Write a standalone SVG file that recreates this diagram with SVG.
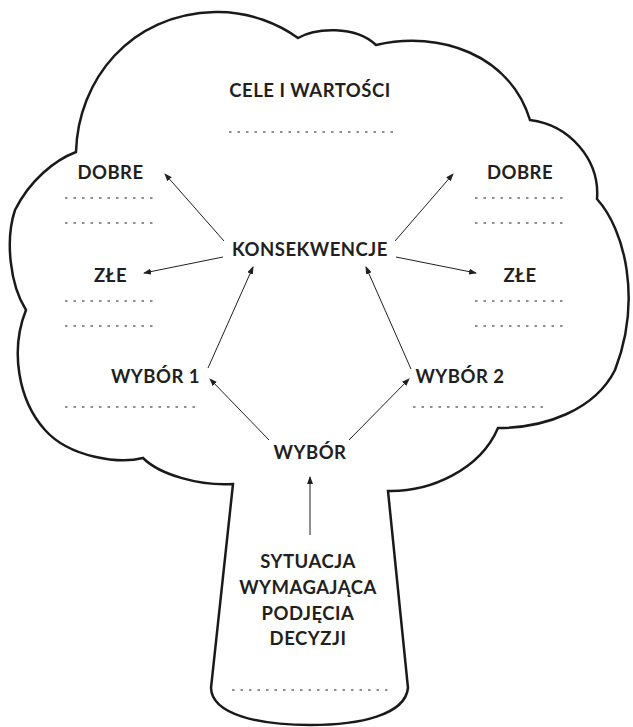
<svg xmlns="http://www.w3.org/2000/svg" width="633" height="727" viewBox="0 0 633 727">
<style>
.t{font-family:Lato,"Open Sans","Liberation Sans",sans-serif;font-weight:700;font-size:18.5px;letter-spacing:0.5px;fill:#231f20;text-anchor:middle}
.d{stroke:#231f20;stroke-width:1.2;stroke-dasharray:2.5 6;fill:none}
.c{stroke:#231f20;stroke-width:1;fill:none;marker-end:url(#ah)}
.o{stroke:#1a1a1a;stroke-width:2.5;fill:#fff;stroke-linejoin:miter}
</style>
<defs>
<marker id="ah" markerWidth="8" markerHeight="6" refX="7" refY="3" orient="auto" markerUnits="userSpaceOnUse">
<path d="M0,0 L8,3 L0,6 Z" fill="#231f20"/>
</marker>
</defs>
<g id="tree">
<path class="o" d="M233,484 C200,486 160,475 143,458 C120,464 70,458 45,430 C18,400 10,350 26,310 C10,285 5,240 15,210 C30,180 55,160 76,152 C78,80 130,14 215,12 C250,11 280,25 298,38 C315,28 355,25 376,45 C440,30 510,55 530,120 C570,125 600,160 597,199 C625,230 642,300 615,370 C595,410 545,428 498,428 C480,470 430,492 388,491 L408,688 C405,715 360,725 310,725 C260,725 212,715 211,688 Z"/>
</g>
<g id="connectors">
<line class="c" x1="224" y1="241" x2="165" y2="174"/>
<line class="c" x1="395" y1="241" x2="453" y2="174"/>
<line class="c" x1="223" y1="257" x2="144" y2="273"/>
<line class="c" x1="396" y1="257" x2="476" y2="273"/>
<line class="c" x1="208" y1="368" x2="253" y2="267"/>
<line class="c" x1="411" y1="369" x2="366" y2="267"/>
<line class="c" x1="269" y1="440" x2="210" y2="379"/>
<line class="c" x1="349" y1="440" x2="409" y2="379"/>
<line class="c" x1="310" y1="535" x2="310" y2="477"/>
</g>
<g id="cele"><text class="t" x="310" y="97">CELE I WARTOŚCI</text><line class="d" x1="229" y1="132" x2="394" y2="132"/></g>
<g id="dobre-l"><text class="t" x="110.5" y="179">DOBRE</text><line class="d" x1="65" y1="198" x2="158" y2="198"/><line class="d" x1="65" y1="223" x2="158" y2="223"/></g>
<g id="zle-l"><text class="t" x="110.5" y="282">ZŁE</text><line class="d" x1="65" y1="301" x2="158" y2="301"/><line class="d" x1="65" y1="326" x2="158" y2="326"/></g>
<g id="dobre-r"><text class="t" x="520" y="179">DOBRE</text><line class="d" x1="475" y1="198" x2="568" y2="198"/><line class="d" x1="475" y1="223" x2="568" y2="223"/></g>
<g id="zle-r"><text class="t" x="520" y="282">ZŁE</text><line class="d" x1="475" y1="301" x2="568" y2="301"/><line class="d" x1="475" y1="326" x2="568" y2="326"/></g>
<g id="konsekwencje"><text class="t" x="310" y="256">KONSEKWENCJE</text></g>
<g id="wybor1"><text class="t" x="155.5" y="383">WYBÓR 1</text><line class="d" x1="65" y1="407" x2="199" y2="407"/></g>
<g id="wybor2"><text class="t" x="460" y="383">WYBÓR 2</text><line class="d" x1="413" y1="407" x2="548" y2="407"/></g>
<g id="wybor"><text class="t" x="310" y="459">WYBÓR</text></g>
<g id="sytuacja"><text class="t" x="308" y="568">SYTUACJA</text><text class="t" x="308" y="594">WYMAGAJĄCA</text><text class="t" x="308" y="620">PODJĘCIA</text><text class="t" x="308" y="645">DECYZJI</text><line class="d" x1="232" y1="690" x2="388" y2="690"/></g>
</svg>
